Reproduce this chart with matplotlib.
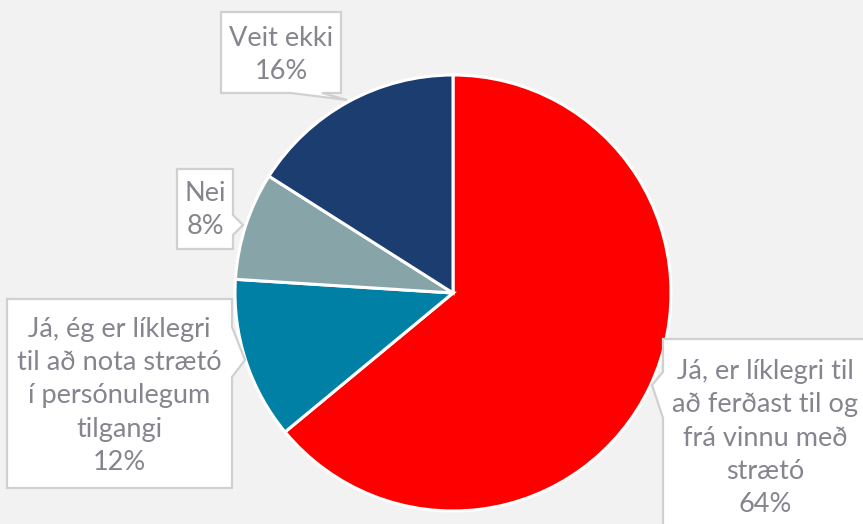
import matplotlib
matplotlib.use("Agg")
import matplotlib.pyplot as plt
from matplotlib.patches import Polygon

# ---- data ----
categories = [
    "Já, er líklegri til\nað ferðast til og\nfrá vinnu með\nstrætó",
    "Já, ég er líklegri\ntil að nota strætó\ní persónulegum\ntilgangi",
    "Nei",
    "Veit ekki",
]
values = [64, 12, 8, 16]
colors = ["#FF0000", "#0080A4", "#87A5A8", "#1C3D6F"]

# ---- layout (pixel coordinates, origin top-left) ----
W, H = 863, 524
CX, CY, R = 453, 293, 218

def px(x, y):
    return ((x - CX) / R, (CY - y) / R)

fig = plt.figure(figsize=(W / 100, H / 100), dpi=100, facecolor="#F2F2F2")
ax = fig.add_axes([0, 0, 1, 1])
ax.set_facecolor("#F2F2F2")

ax.pie(values, colors=colors, startangle=90, counterclock=False, radius=1,
       wedgeprops=dict(edgecolor="white", linewidth=2.2))
ax.set_xlim(-CX / R, (W - CX) / R)
ax.set_ylim((CY - H) / R, CY / R)
ax.set_aspect("equal")
ax.axis("off")

# callout outlines (pixel layout) and text centres
callouts = [
    # right box (64%)
    ([(663, 540), (663, 418), (652, 385), (663, 372), (663, 339), (900, 339), (900, 540)], (765, 438)),
    # left box (12%)
    ([(7, 299), (232, 299), (232, 327), (245, 360), (232, 377), (232, 488), (7, 488)], (119, 396)),
    # Nei (8%)
    ([(177, 169), (233, 169), (233, 215), (243, 225), (233, 235), (233, 249), (177, 249)], (205, 210)),
    # Veit ekki (16%)
    ([(221, 12), (341, 12), (341, 93), (322, 93), (347, 100), (291, 93), (221, 93)], (281, 55)),
]

for (poly, (tx, ty)), cat, val in zip(callouts, categories, values):
    ax.add_patch(Polygon([px(x, y) for x, y in poly], closed=True,
                         facecolor="white", edgecolor="#D0D0D0", linewidth=1.6,
                         zorder=3, clip_on=False))
    ax.text(*px(tx, ty), f"{cat}\n{val}%", ha="center", va="center",
            multialignment="center", fontsize=19.5, family="Lato",
            color="#85858F", linespacing=1.42, zorder=4)

fig.savefig("out.png", dpi=100, facecolor=fig.get_facecolor())
